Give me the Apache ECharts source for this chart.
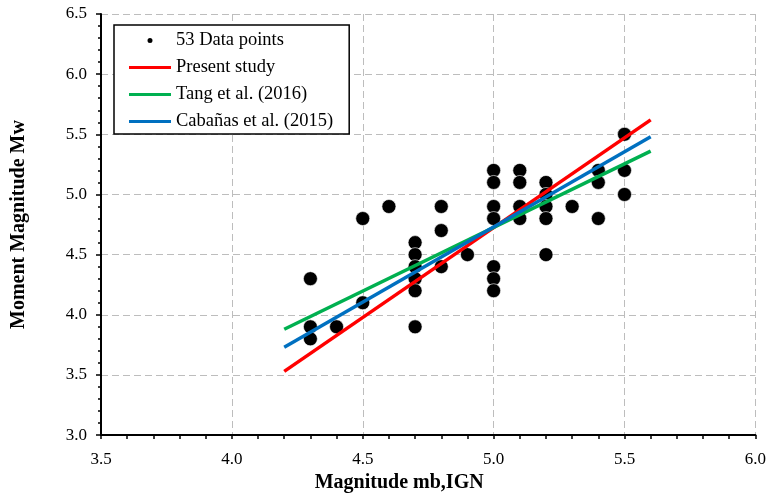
<!DOCTYPE html>
<html>
<head>
<meta charset="utf-8">
<script src="https://cdn.jsdelivr.net/npm/echarts@6/dist/echarts.min.js"></script>
<style>
html,body{margin:0;padding:0;background:#fff;}
#chart{width:769px;height:498px;}
</style>
</head>
<body>
<div id="chart"></div>
<script>
// Data points (mb,IGN , Mw)
const pointsX = [4.3,4.3,4.3,4.4,4.5,4.5,4.6,4.7,4.7,4.7,4.7,4.7,4.7,4.8,4.8,4.8,4.9,
  5.0,5.0,5.0,5.0,5.0,5.0,5.0,5.1,5.1,5.1,5.1,5.2,5.2,5.2,5.2,5.2,5.3,5.4,5.4,5.4,5.5,5.5,5.5];
const pointsY = [4.3,3.9,3.8,3.9,4.8,4.1,4.9,4.6,4.5,4.4,4.3,4.2,3.9,4.9,4.7,4.4,4.5,
  5.2,5.1,4.9,4.8,4.4,4.3,4.2,5.2,5.1,4.9,4.8,5.1,5.0,4.9,4.8,4.5,4.9,5.2,5.1,4.8,5.5,5.2,5.0];
// Regression lines (endpoints)
const lineX = [4.2, 5.6];
const presentStudy = [3.53, 5.62];
const tang2016 = [3.88, 5.36];
const cabanas2015 = [3.73, 5.48];
const seriesNames = ['53 Data points','Present study','Tang et al. (2016)','Cabañas et al. (2015)'];

const FONT = '"Liberation Serif", "Times New Roman", serif';
const chart = echarts.init(document.getElementById('chart'));
const pair = (xs, ys) => xs.map((x, i) => [x, ys[i]]);
const LINE_ICON = 'path://M0,0L42,0L42,3.2L0,3.2Z';

const axisCommon = {
  axisLine: {show: true, onZero: false, lineStyle: {color: '#000', width: 2}},
  axisTick: {show: true, inside: false, length: 5, lineStyle: {color: '#000', width: 1.5}},
  minorTick: {show: true, splitNumber: 5, length: 4, lineStyle: {color: '#000', width: 1.5}},
  splitLine: {show: true, lineStyle: {color: '#BDBDBD', width: 1, type: [7, 4]}},
  minorSplitLine: {show: false},
  axisLabel: {color: '#000', fontFamily: FONT, fontSize: 17, formatter: v => v.toFixed(1)},
  nameTextStyle: {color: '#000', fontFamily: FONT, fontSize: 20, fontWeight: 'bold'}
};

chart.setOption({
  animation: false,
  backgroundColor: '#fff',
  grid: {left: 101, right: 12, top: 14, bottom: 61, containLabel: false},
  xAxis: Object.assign({}, axisCommon, {
    type: 'value', min: 3.5, max: 6.0, interval: 0.5,
    name: 'Magnitude mb,IGN', nameLocation: 'middle', nameGap: 37,
    nameTextStyle: Object.assign({}, axisCommon.nameTextStyle, {padding: [0, 58, 0, 0]}),
    axisLabel: Object.assign({}, axisCommon.axisLabel, {margin: 16}),
    axisTick: Object.assign({}, axisCommon.axisTick, {length: 4})
  }),
  yAxis: Object.assign({}, axisCommon, {
    type: 'value', min: 3.0, max: 6.5, interval: 0.5,
    name: 'Moment Magnitude Mw', nameLocation: 'middle', nameGap: 72,
    axisLabel: Object.assign({}, axisCommon.axisLabel, {margin: 14}),
    minorTick: Object.assign({}, axisCommon.minorTick, {length: 3})
  }),
  legend: {
    show: true, orient: 'vertical', left: 114, top: 25,
    padding: [6, 16, 3, 15], itemGap: 8, itemWidth: 42, itemHeight: 7,
    borderColor: '#000', borderWidth: 1.5, backgroundColor: '#fff', borderRadius: 0,
    textStyle: {color: '#000', fontFamily: FONT, fontSize: 18.5},
    data: [
      {name: seriesNames[0], icon: 'circle'},
      {name: seriesNames[1], icon: LINE_ICON},
      {name: seriesNames[2], icon: LINE_ICON},
      {name: seriesNames[3], icon: LINE_ICON}
    ],
    selectedMode: false
  },
  series: [
    {name: seriesNames[0], type: 'scatter', data: pair(pointsX, pointsY), symbolSize: 14,
      itemStyle: {color: '#000', borderColor: '#fff', borderWidth: 0.6, opacity: 1}, z: 2},
    {name: seriesNames[1], type: 'line', data: pair(lineX, presentStudy), showSymbol: false, symbol: 'none',
      lineStyle: {color: '#FF0000', width: 3.5}, itemStyle: {color: '#FF0000'}, z: 3},
    {name: seriesNames[2], type: 'line', data: pair(lineX, tang2016), showSymbol: false, symbol: 'none',
      lineStyle: {color: '#00B050', width: 3.5}, itemStyle: {color: '#00B050'}, z: 3},
    {name: seriesNames[3], type: 'line', data: pair(lineX, cabanas2015), showSymbol: false, symbol: 'none',
      lineStyle: {color: '#0070C0', width: 3.5}, itemStyle: {color: '#0070C0'}, z: 3}
  ]
});
</script>
</body>
</html>
